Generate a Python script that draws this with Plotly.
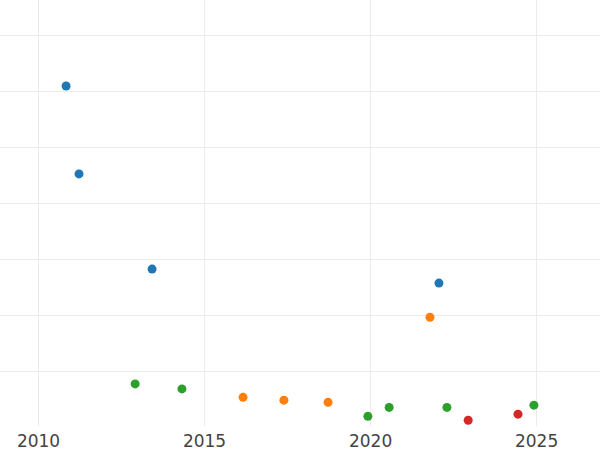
import plotly.graph_objects as go

# ── Data ──────────────────────────────────────────────────────────────────────
blue_x   = [2010.83, 2011.22, 2013.42, 2022.06]
blue_y   = [6.09, 4.52, 2.82, 2.57]

orange_x = [2016.16, 2017.39, 2018.72, 2021.79]
orange_y = [0.53, 0.48, 0.44, 1.96]

green_x  = [2012.91, 2014.32, 2019.92, 2020.56, 2022.30, 2024.92]
green_y  = [0.77, 0.68, 0.19, 0.35, 0.35, 0.39]

red_x    = [2022.94, 2024.44]
red_y    = [0.12, 0.23]

SERIES = [
    ("A", blue_x,   blue_y,   "#1f77b4"),
    ("B", orange_x, orange_y, "#ff7f0e"),
    ("C", green_x,  green_y,  "#2ca02c"),
    ("D", red_x,    red_y,    "#d62728"),
]

GRID = "#EBEBEB"

fig = go.Figure()
for name, xs, ys, color in SERIES:
    fig.add_trace(go.Scatter(
        x=xs, y=ys, name=name, mode="markers",
        marker=dict(color=color, size=9),
    ))

fig.update_layout(
    width=600, height=450,
    margin=dict(l=0, r=0, t=0, b=24),
    paper_bgcolor="white", plot_bgcolor="white",
    showlegend=False,
    font=dict(family="DejaVu Sans", size=17, color="#444"),
    xaxis=dict(
        range=[2008.84, 2026.91],
        tickvals=[2010, 2015, 2020, 2025],
        showgrid=True, gridcolor=GRID, gridwidth=1,
        zeroline=False, showline=False, ticks="",
        ticklabelstandoff=3,
    ),
    yaxis=dict(
        range=[0.018, 7.625],
        dtick=1,
        showgrid=True, gridcolor=GRID, gridwidth=1,
        zeroline=False, showline=False, showticklabels=False, ticks="",
    ),
)

# drop the browser's default 8px body margin so the figure sits at the corner
fig.write_html("out.html", config={"displayModeBar": False},
               post_script="document.body.style.margin='0';")
